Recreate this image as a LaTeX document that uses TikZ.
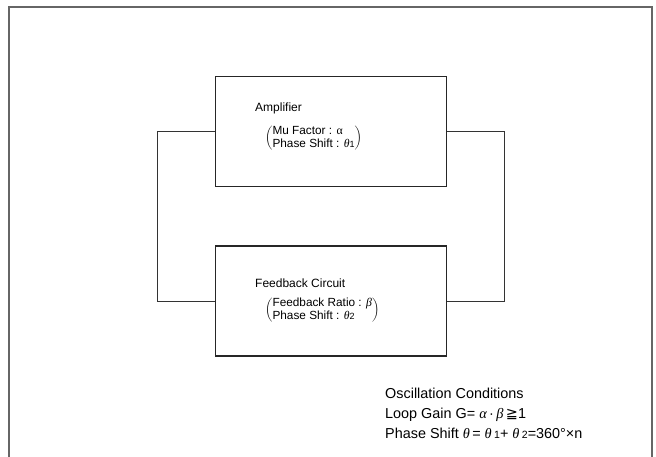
\documentclass[tikz,border=0pt]{standalone}
\usepackage{fontspec}
\setmainfont{Liberation Sans}
\newfontfamily\greekserif{Liberation Serif}
\newfontfamily\symbolfont{DejaVu Sans}
\newcommand{\grk}[1]{{\greekserif\itshape #1}}
\usetikzlibrary{positioning}

\begin{document}
\begin{tikzpicture}[x=1pt,y=-1pt,line cap=rect,
		block/.style={draw=black!85,line width=1.3pt,minimum width=231pt,minimum height=110pt},
		wire/.style={draw=black!80,line width=0.9pt},
		title/.style={font=\fontsize{12}{12}\selectfont,anchor=base west,inner sep=0pt},
		info/.style={font=\fontsize{11.8}{13}\selectfont,anchor=west,inner sep=0pt},
		cond/.style={font=\fontsize{14.4}{14}\selectfont,anchor=base west,inner sep=0pt}]
		\useasboundingbox (0,0) rectangle (656,456);

		% draw the frame
		\draw[black!60,line width=1.4pt] (9,460) -- (9,7) -- (652,7) -- (652,460);

		% draw the two blocks
		\node[block] (amp) at (331,131.5) {};
		\node[block] (fb) at (331,301) {};

		% texts inside the blocks
		\node[title] (amptitle) at (255,111) {Amplifier};
		\node[info] (ampinfo) at (265,138) {$\left(\begin{tabular}{@{}l@{}}Mu Factor : {\greekserif α}\\Phase Shift : \grk{θ}{\fontsize{9}{9}\selectfont 1}\end{tabular}\right)$};
		\node[title] (fbtitle) at (255,287) {Feedback Circuit};
		\node[info] (fbinfo) at (265,310) {$\left(\begin{tabular}{@{}l@{}}Feedback Ratio : \grk{β}\\Phase Shift : \grk{θ}{\fontsize{9}{9}\selectfont 2}\end{tabular}\right)$};

		% the loop between the blocks
		\coordinate (leftbend) at (157,0);
		\coordinate (rightbend) at (504,0);
		\draw[wire] (amp.west) -- (amp.west -| leftbend) -- (fb.west -| leftbend) -- (fb.west);
		\draw[wire] (amp.east) -- (amp.east -| rightbend) -- (fb.east -| rightbend) -- (fb.east);

		% the conditions
		\node[cond] (condtitle) at (385,398) {Oscillation Conditions};
		\node[cond] (gain) at (385,418) {Loop Gain G= \grk{α}\,·\,\grk{β}\,{\symbolfont ≧}1};
		\node[cond] (phase) at (385,438) {Phase Shift \grk{θ}\,= \grk{θ}\,{\fontsize{10.5}{10}\selectfont 1}+ \grk{θ}\,{\fontsize{10.5}{10}\selectfont 2}=360°×n};
	\end{tikzpicture}
\end{document}
